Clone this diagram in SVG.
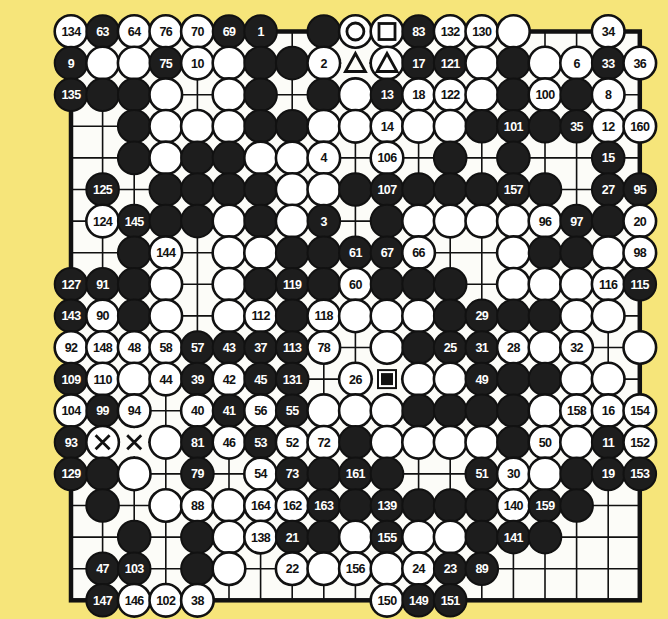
<svg xmlns="http://www.w3.org/2000/svg" width="668" height="619" viewBox="0 0 668 619">
<style>
.b{fill:#1d1d1d;stroke:#111;stroke-width:2}
.w{fill:#fff;stroke:#111;stroke-width:2.6}
.bg{fill:#fcfcf8;stroke:none}
.mk{fill:none;stroke:#111;stroke-width:2.8}
text{font-family:"Liberation Sans",Arial,sans-serif;font-weight:bold;font-size:12.5px;text-anchor:middle;letter-spacing:-0.6px}
.tb{fill:#fff}
.tw{fill:#111}
</style>
<rect width="668" height="619" fill="#f6e57a"/>
<g id="board">
<rect x="71" y="31.5" width="568.8" height="568.8" fill="#fcfcf8" stroke="#111" stroke-width="4.5"/>
<path stroke="#111" stroke-width="1.6" fill="none" d="M102.6 31.5V600.3M134.2 31.5V600.3M165.8 31.5V600.3M197.4 31.5V600.3M229 31.5V600.3M260.6 31.5V600.3M292.2 31.5V600.3M323.8 31.5V600.3M355.4 31.5V600.3M387 31.5V600.3M418.6 31.5V600.3M450.2 31.5V600.3M481.8 31.5V600.3M513.4 31.5V600.3M545 31.5V600.3M576.6 31.5V600.3M608.2 31.5V600.3M71 63.1H639.8M71 94.7H639.8M71 126.3H639.8M71 157.9H639.8M71 189.5H639.8M71 221.1H639.8M71 252.7H639.8M71 284.3H639.8M71 315.9H639.8M71 347.5H639.8M71 379.1H639.8M71 410.7H639.8M71 442.3H639.8M71 473.9H639.8M71 505.5H639.8M71 537.1H639.8M71 568.7H639.8"/>
</g>
<g id="row0">
<circle class="w" cx="71" cy="31.5" r="16.3"/><text class="tw" x="71" y="36">134</text>
<circle class="b" cx="102.6" cy="31.5" r="16.3"/><text class="tb" x="102.6" y="36">63</text>
<circle class="w" cx="134.2" cy="31.5" r="16.3"/><text class="tw" x="134.2" y="36">64</text>
<circle class="w" cx="165.8" cy="31.5" r="16.3"/><text class="tw" x="165.8" y="36">76</text>
<circle class="w" cx="197.4" cy="31.5" r="16.3"/><text class="tw" x="197.4" y="36">70</text>
<circle class="b" cx="229" cy="31.5" r="16.3"/><text class="tb" x="229" y="36">69</text>
<circle class="b" cx="260.6" cy="31.5" r="16.3"/><text class="tb" x="260.6" y="36">1</text>
<circle class="b" cx="323.8" cy="31.5" r="16.3"/>
<circle class="w" cx="355.4" cy="31.5" r="16.3"/><circle class="mk" cx="355.4" cy="31.5" r="8.5"/>
<circle class="w" cx="387" cy="31.5" r="16.3"/><rect class="mk" x="379" y="23.5" width="16" height="16"/>
<circle class="b" cx="418.6" cy="31.5" r="16.3"/><text class="tb" x="418.6" y="36">83</text>
<circle class="w" cx="450.2" cy="31.5" r="16.3"/><text class="tw" x="450.2" y="36">132</text>
<circle class="w" cx="481.8" cy="31.5" r="16.3"/><text class="tw" x="481.8" y="36">130</text>
<circle class="w" cx="513.4" cy="31.5" r="16.3"/>
<circle class="w" cx="608.2" cy="31.5" r="16.3"/><text class="tw" x="608.2" y="36">34</text>
</g>
<g id="row1">
<circle class="b" cx="71" cy="63.1" r="16.3"/><text class="tb" x="71" y="67.6">9</text>
<circle class="w" cx="102.6" cy="63.1" r="16.3"/>
<circle class="w" cx="134.2" cy="63.1" r="16.3"/>
<circle class="b" cx="165.8" cy="63.1" r="16.3"/><text class="tb" x="165.8" y="67.6">75</text>
<circle class="w" cx="197.4" cy="63.1" r="16.3"/><text class="tw" x="197.4" y="67.6">10</text>
<circle class="w" cx="229" cy="63.1" r="16.3"/>
<circle class="b" cx="260.6" cy="63.1" r="16.3"/>
<circle class="b" cx="292.2" cy="63.1" r="16.3"/>
<circle class="w" cx="323.8" cy="63.1" r="16.3"/><text class="tw" x="323.8" y="67.6">2</text>
<circle class="bg" cx="355.4" cy="63.1" r="14"/><polygon class="mk" points="355.4,53.5 345.4,71.5 365.4,71.5"/>
<circle class="w" cx="387" cy="63.1" r="16.3"/><polygon class="mk" points="387,53.5 377,71.5 397,71.5"/>
<circle class="b" cx="418.6" cy="63.1" r="16.3"/><text class="tb" x="418.6" y="67.6">17</text>
<circle class="b" cx="450.2" cy="63.1" r="16.3"/><text class="tb" x="450.2" y="67.6">121</text>
<circle class="w" cx="481.8" cy="63.1" r="16.3"/>
<circle class="b" cx="513.4" cy="63.1" r="16.3"/>
<circle class="w" cx="545" cy="63.1" r="16.3"/>
<circle class="w" cx="576.6" cy="63.1" r="16.3"/><text class="tw" x="576.6" y="67.6">6</text>
<circle class="b" cx="608.2" cy="63.1" r="16.3"/><text class="tb" x="608.2" y="67.6">33</text>
<circle class="w" cx="639.8" cy="63.1" r="16.3"/><text class="tw" x="639.8" y="67.6">36</text>
</g>
<g id="row2">
<circle class="b" cx="71" cy="94.7" r="16.3"/><text class="tb" x="71" y="99.2">135</text>
<circle class="b" cx="102.6" cy="94.7" r="16.3"/>
<circle class="b" cx="134.2" cy="94.7" r="16.3"/>
<circle class="w" cx="165.8" cy="94.7" r="16.3"/>
<circle class="w" cx="229" cy="94.7" r="16.3"/>
<circle class="b" cx="260.6" cy="94.7" r="16.3"/>
<circle class="b" cx="323.8" cy="94.7" r="16.3"/>
<circle class="w" cx="355.4" cy="94.7" r="16.3"/>
<circle class="b" cx="387" cy="94.7" r="16.3"/><text class="tb" x="387" y="99.2">13</text>
<circle class="w" cx="418.6" cy="94.7" r="16.3"/><text class="tw" x="418.6" y="99.2">18</text>
<circle class="w" cx="450.2" cy="94.7" r="16.3"/><text class="tw" x="450.2" y="99.2">122</text>
<circle class="w" cx="481.8" cy="94.7" r="16.3"/>
<circle class="b" cx="513.4" cy="94.7" r="16.3"/>
<circle class="w" cx="545" cy="94.7" r="16.3"/><text class="tw" x="545" y="99.2">100</text>
<circle class="b" cx="576.6" cy="94.7" r="16.3"/>
<circle class="w" cx="608.2" cy="94.7" r="16.3"/><text class="tw" x="608.2" y="99.2">8</text>
</g>
<g id="row3">
<circle class="b" cx="134.2" cy="126.3" r="16.3"/>
<circle class="w" cx="165.8" cy="126.3" r="16.3"/>
<circle class="w" cx="197.4" cy="126.3" r="16.3"/>
<circle class="w" cx="229" cy="126.3" r="16.3"/>
<circle class="b" cx="260.6" cy="126.3" r="16.3"/>
<circle class="b" cx="292.2" cy="126.3" r="16.3"/>
<circle class="w" cx="323.8" cy="126.3" r="16.3"/>
<circle class="w" cx="355.4" cy="126.3" r="16.3"/>
<circle class="w" cx="387" cy="126.3" r="16.3"/><text class="tw" x="387" y="130.8">14</text>
<circle class="w" cx="418.6" cy="126.3" r="16.3"/>
<circle class="w" cx="450.2" cy="126.3" r="16.3"/>
<circle class="b" cx="481.8" cy="126.3" r="16.3"/>
<circle class="b" cx="513.4" cy="126.3" r="16.3"/><text class="tb" x="513.4" y="130.8">101</text>
<circle class="b" cx="545" cy="126.3" r="16.3"/>
<circle class="b" cx="576.6" cy="126.3" r="16.3"/><text class="tb" x="576.6" y="130.8">35</text>
<circle class="w" cx="608.2" cy="126.3" r="16.3"/><text class="tw" x="608.2" y="130.8">12</text>
<circle class="w" cx="639.8" cy="126.3" r="16.3"/><text class="tw" x="639.8" y="130.8">160</text>
</g>
<g id="row4">
<circle class="b" cx="134.2" cy="157.9" r="16.3"/>
<circle class="w" cx="165.8" cy="157.9" r="16.3"/>
<circle class="b" cx="197.4" cy="157.9" r="16.3"/>
<circle class="b" cx="229" cy="157.9" r="16.3"/>
<circle class="w" cx="260.6" cy="157.9" r="16.3"/>
<circle class="w" cx="292.2" cy="157.9" r="16.3"/>
<circle class="w" cx="323.8" cy="157.9" r="16.3"/><text class="tw" x="323.8" y="162.4">4</text>
<circle class="w" cx="387" cy="157.9" r="16.3"/><text class="tw" x="387" y="162.4">106</text>
<circle class="b" cx="450.2" cy="157.9" r="16.3"/>
<circle class="b" cx="513.4" cy="157.9" r="16.3"/>
<circle class="b" cx="608.2" cy="157.9" r="16.3"/><text class="tb" x="608.2" y="162.4">15</text>
</g>
<g id="row5">
<circle class="b" cx="102.6" cy="189.5" r="16.3"/><text class="tb" x="102.6" y="194">125</text>
<circle class="b" cx="165.8" cy="189.5" r="16.3"/>
<circle class="b" cx="197.4" cy="189.5" r="16.3"/>
<circle class="b" cx="229" cy="189.5" r="16.3"/>
<circle class="b" cx="260.6" cy="189.5" r="16.3"/>
<circle class="w" cx="292.2" cy="189.5" r="16.3"/>
<circle class="w" cx="323.8" cy="189.5" r="16.3"/>
<circle class="b" cx="355.4" cy="189.5" r="16.3"/>
<circle class="b" cx="387" cy="189.5" r="16.3"/><text class="tb" x="387" y="194">107</text>
<circle class="b" cx="418.6" cy="189.5" r="16.3"/>
<circle class="b" cx="450.2" cy="189.5" r="16.3"/>
<circle class="b" cx="481.8" cy="189.5" r="16.3"/>
<circle class="b" cx="513.4" cy="189.5" r="16.3"/><text class="tb" x="513.4" y="194">157</text>
<circle class="b" cx="545" cy="189.5" r="16.3"/>
<circle class="b" cx="608.2" cy="189.5" r="16.3"/><text class="tb" x="608.2" y="194">27</text>
<circle class="b" cx="639.8" cy="189.5" r="16.3"/><text class="tb" x="639.8" y="194">95</text>
</g>
<g id="row6">
<circle class="w" cx="102.6" cy="221.1" r="16.3"/><text class="tw" x="102.6" y="225.6">124</text>
<circle class="b" cx="134.2" cy="221.1" r="16.3"/><text class="tb" x="134.2" y="225.6">145</text>
<circle class="b" cx="165.8" cy="221.1" r="16.3"/>
<circle class="b" cx="197.4" cy="221.1" r="16.3"/>
<circle class="w" cx="229" cy="221.1" r="16.3"/>
<circle class="b" cx="260.6" cy="221.1" r="16.3"/>
<circle class="w" cx="292.2" cy="221.1" r="16.3"/>
<circle class="b" cx="323.8" cy="221.1" r="16.3"/><text class="tb" x="323.8" y="225.6">3</text>
<circle class="b" cx="387" cy="221.1" r="16.3"/>
<circle class="w" cx="418.6" cy="221.1" r="16.3"/>
<circle class="w" cx="450.2" cy="221.1" r="16.3"/>
<circle class="w" cx="481.8" cy="221.1" r="16.3"/>
<circle class="w" cx="513.4" cy="221.1" r="16.3"/>
<circle class="w" cx="545" cy="221.1" r="16.3"/><text class="tw" x="545" y="225.6">96</text>
<circle class="b" cx="576.6" cy="221.1" r="16.3"/><text class="tb" x="576.6" y="225.6">97</text>
<circle class="b" cx="608.2" cy="221.1" r="16.3"/>
<circle class="w" cx="639.8" cy="221.1" r="16.3"/><text class="tw" x="639.8" y="225.6">20</text>
</g>
<g id="row7">
<circle class="b" cx="134.2" cy="252.7" r="16.3"/>
<circle class="w" cx="165.8" cy="252.7" r="16.3"/><text class="tw" x="165.8" y="257.2">144</text>
<circle class="w" cx="229" cy="252.7" r="16.3"/>
<circle class="w" cx="260.6" cy="252.7" r="16.3"/>
<circle class="b" cx="292.2" cy="252.7" r="16.3"/>
<circle class="b" cx="323.8" cy="252.7" r="16.3"/>
<circle class="b" cx="355.4" cy="252.7" r="16.3"/><text class="tb" x="355.4" y="257.2">61</text>
<circle class="b" cx="387" cy="252.7" r="16.3"/><text class="tb" x="387" y="257.2">67</text>
<circle class="w" cx="418.6" cy="252.7" r="16.3"/><text class="tw" x="418.6" y="257.2">66</text>
<circle class="w" cx="513.4" cy="252.7" r="16.3"/>
<circle class="b" cx="545" cy="252.7" r="16.3"/>
<circle class="b" cx="576.6" cy="252.7" r="16.3"/>
<circle class="w" cx="608.2" cy="252.7" r="16.3"/>
<circle class="w" cx="639.8" cy="252.7" r="16.3"/><text class="tw" x="639.8" y="257.2">98</text>
</g>
<g id="row8">
<circle class="b" cx="71" cy="284.3" r="16.3"/><text class="tb" x="71" y="288.8">127</text>
<circle class="b" cx="102.6" cy="284.3" r="16.3"/><text class="tb" x="102.6" y="288.8">91</text>
<circle class="b" cx="134.2" cy="284.3" r="16.3"/>
<circle class="w" cx="165.8" cy="284.3" r="16.3"/>
<circle class="w" cx="229" cy="284.3" r="16.3"/>
<circle class="b" cx="260.6" cy="284.3" r="16.3"/>
<circle class="b" cx="292.2" cy="284.3" r="16.3"/><text class="tb" x="292.2" y="288.8">119</text>
<circle class="b" cx="323.8" cy="284.3" r="16.3"/>
<circle class="w" cx="355.4" cy="284.3" r="16.3"/><text class="tw" x="355.4" y="288.8">60</text>
<circle class="b" cx="387" cy="284.3" r="16.3"/>
<circle class="b" cx="418.6" cy="284.3" r="16.3"/>
<circle class="b" cx="450.2" cy="284.3" r="16.3"/>
<circle class="w" cx="513.4" cy="284.3" r="16.3"/>
<circle class="w" cx="545" cy="284.3" r="16.3"/>
<circle class="w" cx="576.6" cy="284.3" r="16.3"/>
<circle class="w" cx="608.2" cy="284.3" r="16.3"/><text class="tw" x="608.2" y="288.8">116</text>
<circle class="b" cx="639.8" cy="284.3" r="16.3"/><text class="tb" x="639.8" y="288.8">115</text>
</g>
<g id="row9">
<circle class="b" cx="71" cy="315.9" r="16.3"/><text class="tb" x="71" y="320.4">143</text>
<circle class="w" cx="102.6" cy="315.9" r="16.3"/><text class="tw" x="102.6" y="320.4">90</text>
<circle class="b" cx="134.2" cy="315.9" r="16.3"/>
<circle class="w" cx="165.8" cy="315.9" r="16.3"/>
<circle class="w" cx="229" cy="315.9" r="16.3"/>
<circle class="w" cx="260.6" cy="315.9" r="16.3"/><text class="tw" x="260.6" y="320.4">112</text>
<circle class="b" cx="292.2" cy="315.9" r="16.3"/>
<circle class="w" cx="323.8" cy="315.9" r="16.3"/><text class="tw" x="323.8" y="320.4">118</text>
<circle class="w" cx="355.4" cy="315.9" r="16.3"/>
<circle class="w" cx="387" cy="315.9" r="16.3"/>
<circle class="w" cx="418.6" cy="315.9" r="16.3"/>
<circle class="b" cx="450.2" cy="315.9" r="16.3"/>
<circle class="b" cx="481.8" cy="315.9" r="16.3"/><text class="tb" x="481.8" y="320.4">29</text>
<circle class="b" cx="513.4" cy="315.9" r="16.3"/>
<circle class="b" cx="545" cy="315.9" r="16.3"/>
<circle class="w" cx="576.6" cy="315.9" r="16.3"/>
<circle class="w" cx="608.2" cy="315.9" r="16.3"/>
</g>
<g id="row10">
<circle class="w" cx="71" cy="347.5" r="16.3"/><text class="tw" x="71" y="352">92</text>
<circle class="w" cx="102.6" cy="347.5" r="16.3"/><text class="tw" x="102.6" y="352">148</text>
<circle class="w" cx="134.2" cy="347.5" r="16.3"/><text class="tw" x="134.2" y="352">48</text>
<circle class="w" cx="165.8" cy="347.5" r="16.3"/><text class="tw" x="165.8" y="352">58</text>
<circle class="b" cx="197.4" cy="347.5" r="16.3"/><text class="tb" x="197.4" y="352">57</text>
<circle class="b" cx="229" cy="347.5" r="16.3"/><text class="tb" x="229" y="352">43</text>
<circle class="b" cx="260.6" cy="347.5" r="16.3"/><text class="tb" x="260.6" y="352">37</text>
<circle class="b" cx="292.2" cy="347.5" r="16.3"/><text class="tb" x="292.2" y="352">113</text>
<circle class="w" cx="323.8" cy="347.5" r="16.3"/><text class="tw" x="323.8" y="352">78</text>
<circle class="w" cx="387" cy="347.5" r="16.3"/>
<circle class="b" cx="418.6" cy="347.5" r="16.3"/>
<circle class="b" cx="450.2" cy="347.5" r="16.3"/><text class="tb" x="450.2" y="352">25</text>
<circle class="b" cx="481.8" cy="347.5" r="16.3"/><text class="tb" x="481.8" y="352">31</text>
<circle class="w" cx="513.4" cy="347.5" r="16.3"/><text class="tw" x="513.4" y="352">28</text>
<circle class="w" cx="545" cy="347.5" r="16.3"/>
<circle class="w" cx="576.6" cy="347.5" r="16.3"/><text class="tw" x="576.6" y="352">32</text>
<circle class="w" cx="639.8" cy="347.5" r="16.3"/>
</g>
<g id="row11">
<circle class="b" cx="71" cy="379.1" r="16.3"/><text class="tb" x="71" y="383.6">109</text>
<circle class="w" cx="102.6" cy="379.1" r="16.3"/><text class="tw" x="102.6" y="383.6">110</text>
<circle class="w" cx="134.2" cy="379.1" r="16.3"/>
<circle class="w" cx="165.8" cy="379.1" r="16.3"/><text class="tw" x="165.8" y="383.6">44</text>
<circle class="b" cx="197.4" cy="379.1" r="16.3"/><text class="tb" x="197.4" y="383.6">39</text>
<circle class="w" cx="229" cy="379.1" r="16.3"/><text class="tw" x="229" y="383.6">42</text>
<circle class="b" cx="260.6" cy="379.1" r="16.3"/><text class="tb" x="260.6" y="383.6">45</text>
<circle class="b" cx="292.2" cy="379.1" r="16.3"/><text class="tb" x="292.2" y="383.6">131</text>
<circle class="w" cx="355.4" cy="379.1" r="16.3"/><text class="tw" x="355.4" y="383.6">26</text>
<circle class="bg" cx="387" cy="379.1" r="14"/><rect x="377" y="369.1" width="20" height="20" fill="#111"/><rect x="380" y="372.1" width="14" height="14" fill="none" stroke="#fff" stroke-width="2"/>
<circle class="w" cx="418.6" cy="379.1" r="16.3"/>
<circle class="w" cx="450.2" cy="379.1" r="16.3"/>
<circle class="b" cx="481.8" cy="379.1" r="16.3"/><text class="tb" x="481.8" y="383.6">49</text>
<circle class="b" cx="513.4" cy="379.1" r="16.3"/>
<circle class="b" cx="545" cy="379.1" r="16.3"/>
<circle class="w" cx="576.6" cy="379.1" r="16.3"/>
<circle class="w" cx="608.2" cy="379.1" r="16.3"/>
</g>
<g id="row12">
<circle class="w" cx="71" cy="410.7" r="16.3"/><text class="tw" x="71" y="415.2">104</text>
<circle class="b" cx="102.6" cy="410.7" r="16.3"/><text class="tb" x="102.6" y="415.2">99</text>
<circle class="w" cx="134.2" cy="410.7" r="16.3"/><text class="tw" x="134.2" y="415.2">94</text>
<circle class="w" cx="197.4" cy="410.7" r="16.3"/><text class="tw" x="197.4" y="415.2">40</text>
<circle class="b" cx="229" cy="410.7" r="16.3"/><text class="tb" x="229" y="415.2">41</text>
<circle class="w" cx="260.6" cy="410.7" r="16.3"/><text class="tw" x="260.6" y="415.2">56</text>
<circle class="b" cx="292.2" cy="410.7" r="16.3"/><text class="tb" x="292.2" y="415.2">55</text>
<circle class="w" cx="323.8" cy="410.7" r="16.3"/>
<circle class="w" cx="355.4" cy="410.7" r="16.3"/>
<circle class="w" cx="387" cy="410.7" r="16.3"/>
<circle class="b" cx="418.6" cy="410.7" r="16.3"/>
<circle class="b" cx="450.2" cy="410.7" r="16.3"/>
<circle class="b" cx="481.8" cy="410.7" r="16.3"/>
<circle class="b" cx="513.4" cy="410.7" r="16.3"/>
<circle class="w" cx="545" cy="410.7" r="16.3"/>
<circle class="w" cx="576.6" cy="410.7" r="16.3"/><text class="tw" x="576.6" y="415.2">158</text>
<circle class="w" cx="608.2" cy="410.7" r="16.3"/><text class="tw" x="608.2" y="415.2">16</text>
<circle class="w" cx="639.8" cy="410.7" r="16.3"/><text class="tw" x="639.8" y="415.2">154</text>
</g>
<g id="row13">
<circle class="b" cx="71" cy="442.3" r="16.3"/><text class="tb" x="71" y="446.8">93</text>
<circle class="w" cx="102.6" cy="442.3" r="16.3"/><path class="mk" stroke-width="3.5" d="M95.6 435.3L109.6 449.3M109.6 435.3L95.6 449.3"/>
<circle class="bg" cx="134.2" cy="442.3" r="14"/><path class="mk" stroke-width="3.5" d="M127.2 435.3L141.2 449.3M141.2 435.3L127.2 449.3"/>
<circle class="w" cx="165.8" cy="442.3" r="16.3"/>
<circle class="b" cx="197.4" cy="442.3" r="16.3"/><text class="tb" x="197.4" y="446.8">81</text>
<circle class="w" cx="229" cy="442.3" r="16.3"/><text class="tw" x="229" y="446.8">46</text>
<circle class="b" cx="260.6" cy="442.3" r="16.3"/><text class="tb" x="260.6" y="446.8">53</text>
<circle class="w" cx="292.2" cy="442.3" r="16.3"/><text class="tw" x="292.2" y="446.8">52</text>
<circle class="w" cx="323.8" cy="442.3" r="16.3"/><text class="tw" x="323.8" y="446.8">72</text>
<circle class="b" cx="355.4" cy="442.3" r="16.3"/>
<circle class="w" cx="387" cy="442.3" r="16.3"/>
<circle class="w" cx="418.6" cy="442.3" r="16.3"/>
<circle class="w" cx="450.2" cy="442.3" r="16.3"/>
<circle class="w" cx="481.8" cy="442.3" r="16.3"/>
<circle class="b" cx="513.4" cy="442.3" r="16.3"/>
<circle class="w" cx="545" cy="442.3" r="16.3"/><text class="tw" x="545" y="446.8">50</text>
<circle class="w" cx="576.6" cy="442.3" r="16.3"/>
<circle class="b" cx="608.2" cy="442.3" r="16.3"/><text class="tb" x="608.2" y="446.8">11</text>
<circle class="w" cx="639.8" cy="442.3" r="16.3"/><text class="tw" x="639.8" y="446.8">152</text>
</g>
<g id="row14">
<circle class="b" cx="71" cy="473.9" r="16.3"/><text class="tb" x="71" y="478.4">129</text>
<circle class="b" cx="102.6" cy="473.9" r="16.3"/>
<circle class="w" cx="134.2" cy="473.9" r="16.3"/>
<circle class="b" cx="197.4" cy="473.9" r="16.3"/><text class="tb" x="197.4" y="478.4">79</text>
<circle class="w" cx="260.6" cy="473.9" r="16.3"/><text class="tw" x="260.6" y="478.4">54</text>
<circle class="b" cx="292.2" cy="473.9" r="16.3"/><text class="tb" x="292.2" y="478.4">73</text>
<circle class="b" cx="323.8" cy="473.9" r="16.3"/>
<circle class="b" cx="355.4" cy="473.9" r="16.3"/><text class="tb" x="355.4" y="478.4">161</text>
<circle class="b" cx="387" cy="473.9" r="16.3"/>
<circle class="b" cx="481.8" cy="473.9" r="16.3"/><text class="tb" x="481.8" y="478.4">51</text>
<circle class="w" cx="513.4" cy="473.9" r="16.3"/><text class="tw" x="513.4" y="478.4">30</text>
<circle class="w" cx="545" cy="473.9" r="16.3"/>
<circle class="b" cx="576.6" cy="473.9" r="16.3"/>
<circle class="b" cx="608.2" cy="473.9" r="16.3"/><text class="tb" x="608.2" y="478.4">19</text>
<circle class="b" cx="639.8" cy="473.9" r="16.3"/><text class="tb" x="639.8" y="478.4">153</text>
</g>
<g id="row15">
<circle class="b" cx="102.6" cy="505.5" r="16.3"/>
<circle class="w" cx="165.8" cy="505.5" r="16.3"/>
<circle class="w" cx="197.4" cy="505.5" r="16.3"/><text class="tw" x="197.4" y="510">88</text>
<circle class="w" cx="229" cy="505.5" r="16.3"/>
<circle class="w" cx="260.6" cy="505.5" r="16.3"/><text class="tw" x="260.6" y="510">164</text>
<circle class="w" cx="292.2" cy="505.5" r="16.3"/><text class="tw" x="292.2" y="510">162</text>
<circle class="b" cx="323.8" cy="505.5" r="16.3"/><text class="tb" x="323.8" y="510">163</text>
<circle class="b" cx="355.4" cy="505.5" r="16.3"/>
<circle class="b" cx="387" cy="505.5" r="16.3"/><text class="tb" x="387" y="510">139</text>
<circle class="b" cx="418.6" cy="505.5" r="16.3"/>
<circle class="b" cx="450.2" cy="505.5" r="16.3"/>
<circle class="b" cx="481.8" cy="505.5" r="16.3"/>
<circle class="w" cx="513.4" cy="505.5" r="16.3"/><text class="tw" x="513.4" y="510">140</text>
<circle class="b" cx="545" cy="505.5" r="16.3"/><text class="tb" x="545" y="510">159</text>
<circle class="b" cx="576.6" cy="505.5" r="16.3"/>
</g>
<g id="row16">
<circle class="b" cx="134.2" cy="537.1" r="16.3"/>
<circle class="b" cx="197.4" cy="537.1" r="16.3"/>
<circle class="w" cx="229" cy="537.1" r="16.3"/>
<circle class="w" cx="260.6" cy="537.1" r="16.3"/><text class="tw" x="260.6" y="541.6">138</text>
<circle class="b" cx="292.2" cy="537.1" r="16.3"/><text class="tb" x="292.2" y="541.6">21</text>
<circle class="b" cx="323.8" cy="537.1" r="16.3"/>
<circle class="w" cx="355.4" cy="537.1" r="16.3"/>
<circle class="b" cx="387" cy="537.1" r="16.3"/><text class="tb" x="387" y="541.6">155</text>
<circle class="w" cx="418.6" cy="537.1" r="16.3"/>
<circle class="w" cx="450.2" cy="537.1" r="16.3"/>
<circle class="b" cx="481.8" cy="537.1" r="16.3"/>
<circle class="b" cx="513.4" cy="537.1" r="16.3"/><text class="tb" x="513.4" y="541.6">141</text>
<circle class="b" cx="545" cy="537.1" r="16.3"/>
</g>
<g id="row17">
<circle class="b" cx="102.6" cy="568.7" r="16.3"/><text class="tb" x="102.6" y="573.2">47</text>
<circle class="b" cx="134.2" cy="568.7" r="16.3"/><text class="tb" x="134.2" y="573.2">103</text>
<circle class="b" cx="197.4" cy="568.7" r="16.3"/>
<circle class="w" cx="229" cy="568.7" r="16.3"/>
<circle class="w" cx="292.2" cy="568.7" r="16.3"/><text class="tw" x="292.2" y="573.2">22</text>
<circle class="w" cx="323.8" cy="568.7" r="16.3"/>
<circle class="w" cx="355.4" cy="568.7" r="16.3"/><text class="tw" x="355.4" y="573.2">156</text>
<circle class="w" cx="387" cy="568.7" r="16.3"/>
<circle class="w" cx="418.6" cy="568.7" r="16.3"/><text class="tw" x="418.6" y="573.2">24</text>
<circle class="b" cx="450.2" cy="568.7" r="16.3"/><text class="tb" x="450.2" y="573.2">23</text>
<circle class="b" cx="481.8" cy="568.7" r="16.3"/><text class="tb" x="481.8" y="573.2">89</text>
</g>
<g id="row18">
<circle class="b" cx="102.6" cy="600.3" r="16.3"/><text class="tb" x="102.6" y="604.8">147</text>
<circle class="w" cx="134.2" cy="600.3" r="16.3"/><text class="tw" x="134.2" y="604.8">146</text>
<circle class="w" cx="165.8" cy="600.3" r="16.3"/><text class="tw" x="165.8" y="604.8">102</text>
<circle class="w" cx="197.4" cy="600.3" r="16.3"/><text class="tw" x="197.4" y="604.8">38</text>
<circle class="w" cx="387" cy="600.3" r="16.3"/><text class="tw" x="387" y="604.8">150</text>
<circle class="b" cx="418.6" cy="600.3" r="16.3"/><text class="tb" x="418.6" y="604.8">149</text>
<circle class="b" cx="450.2" cy="600.3" r="16.3"/><text class="tb" x="450.2" y="604.8">151</text>
</g>
</svg>
